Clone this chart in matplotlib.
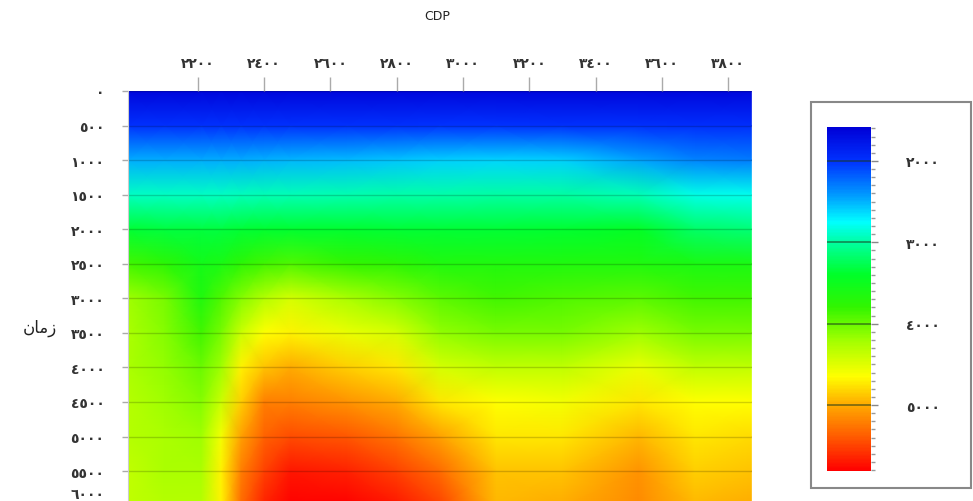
import numpy as np
import matplotlib
matplotlib.use("Agg")
import matplotlib.pyplot as plt
from matplotlib.colors import LinearSegmentedColormap, Normalize
from matplotlib.patches import Rectangle
from matplotlib.cm import ScalarMappable
from matplotlib.transforms import ScaledTranslation

# ---------------- data ----------------
cdp = [1990, 2100, 2210, 2270, 2330, 2400, 2480, 2650, 2800, 2930, 3100, 3300, 3530, 3700, 3870]
times = [0, 500, 1000, 1500, 2000, 2500, 3000, 3500, 4000, 4500, 5000, 5500, 6000]

v_t0000 = [1640, 1640, 1640, 1640, 1640, 1640, 1640, 1640, 1640, 1640, 1640, 1640, 1640, 1640, 1640]
v_t0500 = [1980, 1980, 1980, 1980, 1980, 1980, 1980, 1980, 1990, 2000, 2000, 1990, 1980, 1970, 1970]
v_t1000 = [2480, 2480, 2480, 2480, 2490, 2500, 2510, 2530, 2560, 2600, 2620, 2600, 2450, 2330, 2300]
v_t1500 = [2920, 2920, 2920, 2920, 2930, 2940, 2950, 2960, 2970, 2980, 2990, 3000, 2950, 2820, 2800]
v_t2000 = [3350, 3330, 3320, 3330, 3360, 3380, 3380, 3370, 3360, 3360, 3360, 3380, 3430, 3200, 3150]
v_t2500 = [3850, 3750, 3550, 3600, 3750, 3850, 3900, 3800, 3750, 3650, 3650, 3650, 3650, 3600, 3600]
v_t3000 = [4200, 4050, 3650, 3900, 4100, 4300, 4450, 4250, 4100, 3950, 3850, 3900, 3950, 3850, 3850]
v_t3500 = [4250, 4100, 3850, 4050, 4400, 4650, 4700, 4550, 4450, 4150, 4050, 4050, 4200, 4050, 4050]
v_t4000 = [4250, 4150, 4000, 4200, 4700, 4900, 5000, 4850, 4750, 4450, 4350, 4350, 4550, 4350, 4350]
v_t4500 = [4300, 4200, 4100, 4400, 4850, 5200, 5200, 5100, 5000, 4750, 4650, 4600, 4750, 4650, 4650]
v_t5000 = [4300, 4250, 4200, 4600, 5050, 5350, 5450, 5400, 5250, 5050, 4750, 4750, 4950, 4750, 4800]
v_t5500 = [4350, 4250, 4250, 4700, 5200, 5500, 5700, 5650, 5500, 5300, 4900, 4900, 5100, 4850, 4900]
v_t6000 = [4350, 4300, 4300, 4700, 5300, 5650, 5850, 5800, 5700, 5500, 4950, 5000, 5150, 4950, 5000]

x_ticks = [2200, 2400, 2600, 2800, 3000, 3200, 3400, 3600, 3800]
x_labels = ["٢٢٠٠", "٢٤٠٠", "٢٦٠٠", "٢٨٠٠", "٣٠٠٠", "٣٢٠٠", "٣٤٠٠", "٣٦٠٠", "٣٨٠٠"]
y_ticks = [0, 500, 1000, 1500, 2000, 2500, 3000, 3500, 4000, 4500, 5000, 5500, 6000]
y_labels = ["٠", "٥٠٠", "١٠٠٠", "١٥٠٠", "٢٠٠٠", "٢٥٠٠", "٣٠٠٠", "٣٥٠٠",
            "٤٠٠٠", "٤٥٠٠", "٥٠٠٠", "٥٥٠٠", "٦٠٠٠"]
cb_ticks = [2000, 3000, 4000, 5000]
cb_labels = ["٢٠٠٠", "٣٠٠٠", "٤٠٠٠", "٥٠٠٠"]
x_title = "CDP"
y_title = "ﻥﺎﻣﺯ"   # "زمان" in visual (shaped) order

V = np.array([v_t0000, v_t0500, v_t1000, v_t1500, v_t2000, v_t2500, v_t3000,
              v_t3500, v_t4000, v_t4500, v_t5000, v_t5500, v_t6000], dtype=float)

# ---------------- colormap ----------------
vmin, vmax = 1583, 5810
nodes = [(1583, (0, 0, 215)), (2000, (0, 50, 255)), (2400, (0, 150, 255)),
         (2750, (0, 255, 255)), (3000, (0, 255, 160)), (3400, (0, 255, 40)),
         (3800, (50, 245, 0)), (4200, (160, 255, 0)), (4650, (255, 255, 0)),
         (5000, (255, 170, 0)), (5400, (255, 90, 0)), (5810, (255, 0, 0))]
cmap = LinearSegmentedColormap.from_list(
    "vel", [((v - vmin) / (vmax - vmin), tuple(c / 255 for c in col)) for v, col in nodes])
norm = Normalize(vmin, vmax)

# ---------------- figure ----------------
W, H = 973, 502
plt.rcParams['font.family'] = ['DejaVu Sans']
fig = plt.figure(figsize=(W / 100, H / 100), dpi=100)

def fx(px):
    return px / W

def fy(py):
    return 1 - py / H

tick_font = dict(fontsize=10, fontweight='bold')
tick_color = '#333333'

ax_left, ax_right, ax_top, ax_bot = 128, 752, 92, 506.6
ax = fig.add_axes([fx(ax_left), fy(ax_bot), fx(ax_right) - fx(ax_left), fy(ax_top) - fy(ax_bot)])
X, T = np.meshgrid(cdp, times)
ax.pcolormesh(X, T, V, cmap=cmap, norm=norm, shading='gouraud', rasterized=True)
ax.set_xlim(1989, 3872)
ax.set_ylim(6000, 0)

ax.xaxis.tick_top()
ax.set_xticks(x_ticks)
ax.set_xticklabels(x_labels, **tick_font)
ax.set_yticks(y_ticks)
ax.set_yticklabels(y_labels, **tick_font)
ax.tick_params(axis='x', length=10, width=1, color='#aaaaaa', pad=5, labelcolor=tick_color)
ax.tick_params(axis='y', length=4, width=1, color='#aaaaaa', pad=13, labelcolor=tick_color)
for s in ['top', 'right', 'bottom']:
    ax.spines[s].set_visible(False)
ax.spines['left'].set_color('#cccccc')
ax.grid(axis='y', color='black', alpha=0.18, lw=1)

# keep the last (bottom) time label inside the picture, as in the reference
last = ax.get_yticklabels()[-1]
last.set_transform(last.get_transform() + ScaledTranslation(0, 13 / 100, fig.dpi_scale_trans))

fig.text(fx(437), fy(17), x_title, fontsize=9, ha='center', va='center', color='#222222')
fig.text(fx(40), fy(328), y_title, fontsize=12, ha='center', va='center', color='#222222')

# ---------------- colorbar in a box ----------------
box = Rectangle((fx(811), fy(489)), fx(971) - fx(811), fy(103) - fy(489),
                transform=fig.transFigure, fill=False, edgecolor='#888888', lw=1.5)
fig.patches.append(box)

cax = fig.add_axes([fx(827), fy(472), fx(871) - fx(827), fy(128) - fy(472)])
sm = ScalarMappable(norm=norm, cmap=cmap)
cb = fig.colorbar(sm, cax=cax)
cb.outline.set_visible(False)
cax.set_ylim(vmax, vmin)
cb.set_ticks(cb_ticks)
cb.set_ticklabels(cb_labels, **tick_font)
cax.yaxis.set_ticks(np.arange(1600, 5801, 100), minor=True)
cax.tick_params(axis='y', which='major', length=5, width=1, color='#888888', pad=20,
                labelcolor=tick_color)
cax.tick_params(axis='y', which='minor', length=3, width=1, color='#999999')
for v in cb_ticks:
    cax.axhline(v, color='#1a3a1a', alpha=0.6, lw=1.2)

fig.savefig("out.png", dpi=100)
